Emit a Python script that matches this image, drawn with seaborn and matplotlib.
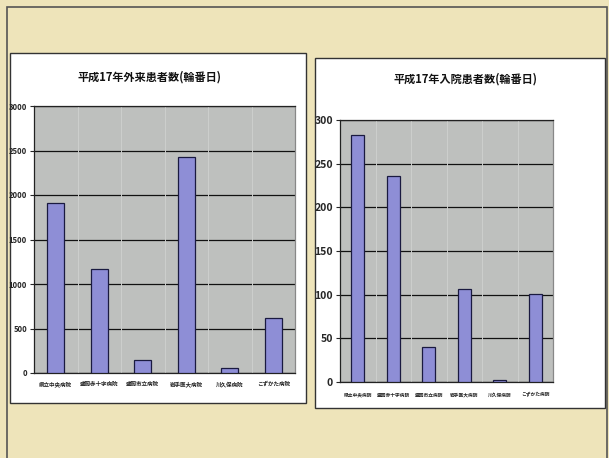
import matplotlib
matplotlib.use("Agg")
import matplotlib.pyplot as plt
from matplotlib.patches import Rectangle
from matplotlib.transforms import blended_transform_factory, offset_copy
import seaborn as sns
import pandas as pd

sns.set_style("white")
plt.rcParams["font.family"] = ["Noto Sans CJK JP", "DejaVu Sans"]

# Hospitals (on-duty rotation days, 2005)
hospitals = ["県立中央病院", "盛岡赤十字病院", "盛岡市立病院", "岩手医大病院", "川久保病院", "こずかた病院"]
outpatients = [1910, 1165, 150, 2425, 55, 620]
inpatients = [283, 236, 40, 107, 2, 101]

title_out = "平成17年外来患者数(輪番日)"
title_in = "平成17年入院患者数(輪番日)"

W, H = 609, 458
fig = plt.figure(figsize=(W / 100, H / 100), dpi=100)
fig.patch.set_facecolor("#EEE4BA")


def px_rect(x0, y0, x1, y1):
    """Pixel box (top-left origin) -> figure fraction [left, bottom, width, height]."""
    return [x0 / W, 1 - y1 / H, (x1 - x0) / W, (y1 - y0) / H]


def add_box(x0, y0, x1, y1, fc="white", lw=1.0, ec="#333333"):
    l, b, w, h = px_rect(x0, y0, x1, y1)
    fig.patches.append(Rectangle((l, b), w, h, transform=fig.transFigure,
                                 facecolor=fc, edgecolor=ec, linewidth=lw, zorder=-10))


# outer frame of the page
add_box(7, 7, 607, 460, fc="none", lw=1.2, ec="#555555")

# white chart panels
add_box(10, 53, 306, 403)
add_box(315, 58, 605, 408)

BAR = "#8E8ED6"
PLOT_BG = "#BEC0BE"


def draw_chart(ax, values, ymax, step, width, ytick_size, xtick_size, xdrop):
    df = pd.DataFrame({"病院": hospitals, "患者数": values})
    sns.barplot(data=df, x="病院", y="患者数", color=BAR, saturation=1,
                edgecolor="#1a1a40", linewidth=0.9, width=width, ax=ax, zorder=3)
    ax.set_facecolor(PLOT_BG)
    ax.set_ylim(0, ymax)
    ax.set_xlim(-0.5, len(hospitals) - 0.5)
    ax.set_yticks(range(0, ymax + 1, step))
    ax.yaxis.grid(True, color="#111111", linewidth=0.9, zorder=1)
    ax.set_axisbelow(True)
    # faint category separators
    for i in range(1, len(hospitals)):
        ax.axvline(i - 0.5, color="#CDCFCD", linewidth=0.7, zorder=1)
    ax.set_xlabel("")
    ax.set_ylabel("")
    for s in ax.spines.values():
        s.set_color("#222222")
        s.set_linewidth(0.9)
    ax.spines["right"].set_color("#888888")
    ax.tick_params(axis="y", labelsize=ytick_size, length=3, width=0.8,
                   direction="out", left=True, pad=2)
    for t in ax.get_yticklabels():
        t.set_fontweight("bold")
    # hospital names on a common baseline below the axis
    ax.tick_params(axis="x", length=0, labelbottom=False)
    trans = offset_copy(blended_transform_factory(ax.transData, ax.transAxes),
                        fig=fig, y=-xdrop, units="points")
    for i, name in enumerate(hospitals):
        ax.text(i, 0, name, transform=trans, ha="center", va="baseline",
                fontsize=xtick_size, fontweight="bold", color="#222222")


ax1 = fig.add_axes(px_rect(34, 106, 295, 373))
draw_chart(ax1, outpatients, 3000, 500, 0.4, 5.5, 4.0, 9.5)
fig.text(150 / W, 1 - 77 / H, title_out, ha="center", va="center",
         fontsize=8, fontweight="bold", color="#111111")

ax2 = fig.add_axes(px_rect(340, 120, 553, 382))
draw_chart(ax2, inpatients, 300, 50, 0.37, 7.5, 3.4, 10.5)
fig.text(466 / W, 1 - 79 / H, title_in, ha="center", va="center",
         fontsize=8, fontweight="bold", color="#111111")

fig.savefig("out.png", dpi=100, facecolor=fig.get_facecolor())
